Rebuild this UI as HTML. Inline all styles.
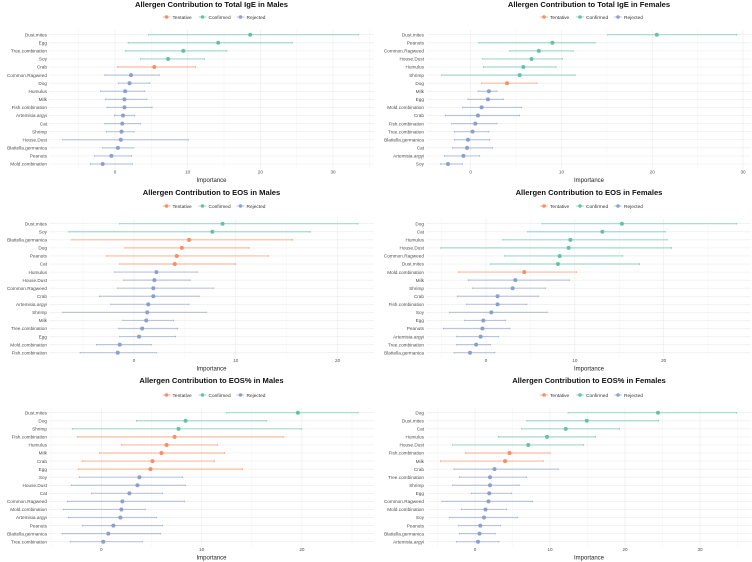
<!DOCTYPE html>
<html><head><meta charset="utf-8"><style>
body{margin:0;background:#fff;}
svg{display:block;font-family:"Liberation Sans",sans-serif;}
</style></head><body>
<svg id="chart" width="752" height="562" viewBox="0 0 752 562"></svg>
<script>
const COLORS={T:'#fc8d62',C:'#66c2a5',R:'#8da0cb'};
// Panel 1: Total IgE Males
const p1Labels=["Dust.mites","Egg","Tree.combination","Soy","Crab","Common.Ragweed","Dog","Humulus","Milk","Fish.combination","Artemisia.argyi","Cat","Shrimp","House.Dust","Blattella.germanica","Peanuts","Mold.combination"];
const p1Mean=[18.6,14.2,9.4,7.3,5.4,2.2,2.0,1.4,1.3,1.3,1.1,1.0,0.9,0.8,0.4,-0.5,-1.7];
const p1Low=[4.6,1.8,1.4,3.5,0.3,-1.4,0.5,-2.0,-1.3,-1.1,-0.1,-1.4,-1.2,-7.2,-1.7,-2.8,-3.4];
const p1High=[33.5,24.4,15.4,12.3,11.1,6.1,4.8,4.1,4.4,5.1,2.7,3.5,2.6,10.1,2.5,2.3,2.4];
const p1Status=["C","C","C","C","T","R","R","R","R","R","R","R","R","R","R","R","R"];
// Panel 2: Total IgE Females
const p2Labels=["Dust.mites","Peanuts","Common.Ragweed","House.Dust","Humulus","Shrimp","Dog","Milk","Egg","Mold.combination","Crab","Fish.combination","Tree.combination","Blattella.germanica","Cat","Artemisia.argyi","Soy"];
const p2Mean=[20.5,9.0,7.5,6.7,5.8,5.4,4.0,2.0,1.9,1.2,0.8,0.5,0.2,-0.3,-0.4,-0.8,-2.5];
const p2Low=[15.1,0.9,4.3,1.3,1.4,-3.2,1.2,0.8,-0.3,-0.9,-2.8,-2.1,-1.8,-1.8,-2.0,-2.9,-3.3];
const p2High=[29.3,13.7,11.3,10.1,9.4,11.5,7.3,2.9,3.6,5.6,5.4,2.9,2.0,2.1,2.4,1.0,-0.9];
const p2Status=["C","C","C","C","C","C","T","R","R","R","R","R","R","R","R","R","R"];
// Panel 3: EOS Males
const p3Labels=["Dust.mites","Soy","Blattella.germanica","Dog","Peanuts","Cat","Humulus","House.Dust","Common.Ragweed","Crab","Artemisia.argyi","Shrimp","Milk","Tree.combination","Egg","Mold.combination","Fish.combination"];
const p3Mean=[8.7,7.7,5.4,4.7,4.2,4.0,2.2,2.0,1.9,1.9,1.4,1.3,1.2,0.8,0.5,-1.4,-1.6];
const p3Low=[-1.4,-6.4,-6.1,-0.9,-2.7,-1.4,-1.9,-1.0,-1.6,-3.4,-2.3,-7.0,-1.1,-1.5,-1.4,-3.7,-5.3];
const p3High=[22.0,17.3,15.6,11.3,13.2,10.0,6.2,5.5,7.8,6.4,5.4,7.1,3.9,4.3,4.1,1.7,2.2];
const p3Status=["C","C","T","T","T","T","R","R","R","R","R","R","R","R","R","R","R"];
// Panel 4: EOS Females
const p4Labels=["Dog","Cat","Humulus","House.Dust","Common.Ragweed","Dust.mites","Mold.combination","Milk","Shrimp","Crab","Fish.combination","Soy","Egg","Peanuts","Artemisia.argyi","Tree.combination","Blattella.germanica"];
const p4Mean=[15.3,13.1,9.5,9.3,8.3,8.1,4.3,3.3,3.0,1.3,1.3,0.6,-0.3,-0.4,-0.6,-1.1,-1.8];
const p4Low=[6.3,4.7,1.9,-5.1,2.1,0.5,-3.1,-2.0,-1.5,-3.2,-2.2,-4.1,-2.4,-4.8,-3.3,-3.3,-3.6];
const p4High=[28.2,20.2,20.4,20.9,15.4,17.3,10.2,9.4,6.7,5.9,4.6,6.9,2.2,2.7,1.4,0.5,1.0];
const p4Status=["C","C","C","C","C","C","T","R","R","R","R","R","R","R","R","R","R"];
// Panel 5: EOS% Males
const p5Labels=["Dust.mites","Dog","Shrimp","Fish.combination","Humulus","Milk","Crab","Egg","Soy","House.Dust","Cat","Common.Ragweed","Mold.combination","Artemisia.argyi","Peanuts","Blattella.germanica","Tree.combination"];
const p5Mean=[19.6,8.4,7.7,7.3,6.5,6.0,5.1,4.9,3.8,3.6,2.8,2.1,2.0,1.9,1.2,0.7,0.2];
const p5Low=[12.5,3.5,-2.9,-2.4,2.0,-0.2,-1.9,-2.3,-2.2,-3.0,-1.0,-3.4,-3.8,-3.3,-1.9,-3.9,-3.1];
const p5High=[25.6,16.5,20.0,18.2,11.6,12.3,11.3,14.1,8.1,8.4,6.1,8.3,4.4,5.5,6.1,5.9,4.1];
const p5Status=["C","C","C","T","T","T","T","T","R","R","R","R","R","R","R","R","R"];
// Panel 6: EOS% Females
const p6Labels=["Dog","Dust.mites","Cat","Humulus","House.Dust","Fish.combination","Milk","Crab","Tree.combination","Shrimp","Egg","Common.Ragweed","Mold.combination","Soy","Peanuts","Blattella.germanica","Artemisia.argyi"];
const p6Mean=[24.4,14.9,12.1,9.6,7.1,4.6,4.0,2.6,2.0,2.0,1.9,1.8,1.4,1.2,0.7,0.6,0.4];
const p6Low=[12.4,6.9,6.2,3.1,-3.0,-1.3,-4.6,-2.8,-2.1,-3.0,-0.5,-4.4,-1.8,-3.4,-2.2,-2.1,-2.5];
const p6High=[34.9,24.5,19.3,16.1,14.5,10.0,9.1,11.1,6.9,5.9,4.9,7.7,4.2,5.7,3.4,2.7,3.2];
const p6Status=["C","C","C","C","C","T","T","R","R","R","R","R","R","R","R","R","R"];
const ticks1=[0,10,20,30];
const ticks2=[0,10,20];

const panels=[
 {name:'total-ige-males',title:'Allergen Contribution to Total IgE in Males',L:p1Labels,M:p1Mean,Lo:p1Low,Hi:p1High,S:p1Status,ox:0,oy:0,x0:115,ppu:7.267,left:49,right:374,lab:47,ticks:ticks1,dmin:-8.5,dmax:35.5},
 {name:'total-ige-females',title:'Allergen Contribution to Total IgE in Females',L:p2Labels,M:p2Mean,Lo:p2Low,Hi:p2High,S:p2Status,ox:376,oy:0,x0:470.7,ppu:9.077,left:427,right:751,lab:424,ticks:ticks1,dmin:-4.5,dmax:30.5},
 {name:'eos-males',title:'Allergen Contribution to EOS in Males',L:p3Labels,M:p3Mean,Lo:p3Low,Hi:p3High,S:p3Status,ox:0,oy:187,x0:134,ppu:10.18,left:49,right:374,lab:47,ticks:ticks2,dmin:-8.5,dmax:23.5},
 {name:'eos-females',title:'Allergen Contribution to EOS in Females',L:p4Labels,M:p4Mean,Lo:p4Low,Hi:p4High,S:p4Status,ox:376,oy:187,x0:486,ppu:8.883,left:427,right:751,lab:424,ticks:ticks2,dmin:-6.5,dmax:29.5},
 {name:'eos-pct-males',title:'Allergen Contribution to EOS% in Males',L:p5Labels,M:p5Mean,Lo:p5Low,Hi:p5High,S:p5Status,ox:0,oy:374,x0:101.3,ppu:10.03,left:49,right:374,lab:47,ticks:ticks2,dmin:-5.5,dmax:27},
 {name:'eos-pct-females',title:'Allergen Contribution to EOS% in Females',L:p6Labels,M:p6Mean,Lo:p6Low,Hi:p6High,S:p6Status,ox:376,oy:374,x0:475,ppu:7.5,left:427,right:751,lab:424,ticks:ticks1,dmin:-6,dmax:36.5}
];
const NS='http://www.w3.org/2000/svg';
const svg=document.getElementById('chart');
function mk(tag,attrs,parent,text){const e=document.createElementNS(NS,tag);for(const k in attrs)e.setAttribute(k,attrs[k]);if(text!==undefined)e.textContent=text;parent.appendChild(e);return e;}
panels.forEach(p=>{
 const g=mk('g',{},svg);
 
 
 const top=p.oy+(p.oy===0?34.7:p.oy===187?36.7:38.7);
 const step=(p.oy===0?129.3:129)/16;
 const x=v=>p.x0+v*p.ppu;
 const y=i=>top+i*step;
 const t=mk('text',{x:(p.left+p.right)/2,y:p.oy+(p.oy===374?9:p.oy===187?8:7),'text-anchor':'middle','font-size':'7.6','font-weight':'bold',fill:'#111'},g,p.title);
 
 
 // legend
 const ly=p.oy+(p.oy===374?21:p.oy===187?19:17);
 const cx=(p.left+p.right)/2;
 const items=[['Tentative','T',-45],['Confirmed','C',-9],['Rejected','R',29]];
 items.forEach(it=>{
  const lg=mk('g',{},g);
  
  
  mk('line',{x1:cx+it[2]-4,x2:cx+it[2]+4,y1:ly,y2:ly,stroke:COLORS[it[1]],'stroke-width':1,opacity:0.6},lg);
  mk('circle',{cx:cx+it[2],cy:ly,r:1.8,fill:COLORS[it[1]]},lg);
  mk('text',{x:cx+it[2]+6,y:ly+2,'font-size':'4.8',fill:'#333'},lg,it[0]);
 });
 // grid
 const gb=top-5, ge=top+16*step+5;
 for(let v=Math.ceil(p.dmin/5)*5;v<=p.dmax;v+=5){
  const major=p.ticks.includes(v);
  const gl=mk('line',{x1:x(v),x2:x(v),y1:gb,y2:ge,stroke:'#ebebeb','stroke-width':major?0.6:0.3},g);
  
  
 }
 for(let i=0;i<17;i++) mk('line',{x1:p.left,x2:p.right,y1:y(i),y2:y(i),stroke:'#ebebeb','stroke-width':0.6},g);
 p.ticks.forEach(v=>{
  const tl=mk('text',{x:x(v),y:ge+4.5,'text-anchor':'middle','font-size':'4.6',fill:'#4d4d4d'},g,String(v));
  
  
 });
 const at=mk('text',{x:(p.left+p.right)/2,y:ge+13,'text-anchor':'middle','font-size':'6',fill:'#222'},g,'Importance');
 
 
 p.L.forEach((lab,i)=>{
  const c=COLORS[p.S[i]];
  const yl=mk('text',{x:p.lab,y:y(i)+1.7,'text-anchor':'end','font-size':'4.7',fill:'#4d4d4d'},g,lab);
  
  
  const bar=mk('line',{x1:x(p.Lo[i]),x2:x(p.Hi[i]),y1:y(i),y2:y(i),stroke:c,'stroke-width':1.2,opacity:0.55},g);
  
  
  [p.Lo[i],p.Hi[i]].forEach(v=>mk('line',{x1:x(v),x2:x(v),y1:y(i)-0.8,y2:y(i)+0.8,stroke:c,'stroke-width':0.6},g));
  const pt=mk('circle',{cx:x(p.M[i]),cy:y(i),r:2,fill:c},g);
  
  
 });
});
</script>
</body></html>
